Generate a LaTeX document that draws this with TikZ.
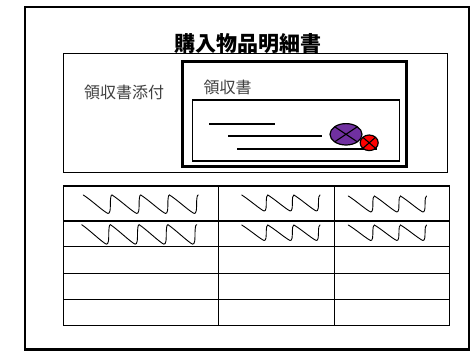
\documentclass[tikz,border=0pt]{standalone}
\usepackage{fontspec}
\newfontfamily\cjk{Noto Sans CJK JP}
\definecolor{sealpurple}{HTML}{7030A0}
\begin{document}
\begin{tikzpicture}[x = 1pt, y = -1pt]
        \def\squiggle#1#2#3#4#5{
            \foreach \k in {1, ..., #5}{
                \pgfmathsetmacro{\sx}{#1 + (\k - 1) * #3}
                \draw[line width = 0.9pt, line cap = round] (\sx, #2) .. controls ({\sx + 0.25 * #3}, {#2 + 0.25 * #4}) and ({\sx + 0.6 * #3}, {#2 + 0.75 * #4}) .. ({\sx + 0.8 * #3}, {#2 + 0.95 * #4})
                    .. controls ({\sx + 0.88 * #3}, {#2 + 1.05 * #4}) and ({\sx + 0.94 * #3}, {#2 + 1.02 * #4}) .. ({\sx + 0.94 * #3}, {#2 + 0.6 * #4})
                    .. controls ({\sx + 0.94 * #3}, {#2 + 0.12 * #4}) and ({\sx + 0.96 * #3}, {#2}) .. ({\sx + #3}, {#2});
            }
        }
        \useasboundingbox (0, 0) rectangle (474, 351);
        \draw[line width = 2.4pt] (25, 7) rectangle (469, 349.5);
        \node[font = \cjk\bfseries\fontsize{21}{25}\selectfont, inner sep = 0pt] (title) at (248.3, 43.5) {購入物品明細書};
        \draw[line width = 1.4pt] (63.5, 53.5) rectangle (447.5, 172.5);
        \node[font = \cjk\fontsize{16}{19}\selectfont, text = black!75, inner sep = 0pt] (attach) at (124.2, 92) {領収書添付};
        \draw[line width = 3pt] (182.3, 61.7) rectangle (406.7, 166.7);
        \node[font = \cjk\fontsize{16}{19}\selectfont, text = black!75, inner sep = 0pt] (receipt) at (227.5, 87.5) {領収書};
        \draw[line width = 1.5pt] (192.3, 100) rectangle (399.3, 161);
        \foreach \lx/\rx/\ly in {209/275/124, 228.3/321.7/136, 237.3/377.3/149}{
            \draw[line width = 1.3pt] (\lx, \ly) -- (\rx, \ly);
        }
        \filldraw[fill = sealpurple, draw = black, line width = 1.2pt] (346, 134.3) ellipse [x radius = 16, y radius = 10.7];
        \draw[line width = 1.1pt] (346, 134.3) +(45:16 and 10.7) -- +(225:16 and 10.7) (346, 134.3) +(135:16 and 10.7) -- +(315:16 and 10.7);
        \filldraw[fill = red, draw = black, line width = 1.2pt] (369.2, 142.8) ellipse [x radius = 9, y radius = 7.8];
        \draw[line width = 1.1pt] (369.2, 142.8) +(45:9 and 7.8) -- +(225:9 and 7.8) (369.2, 142.8) +(135:9 and 7.8) -- +(315:9 and 7.8);
        \foreach \ty in {221, 246.7, 273.3, 299.3}{
            \draw[line width = 1.5pt] (63.5, \ty) -- (449.5, \ty);
        }
        \foreach \tx in {218.3, 334.3}{
            \draw[line width = 1.5pt] (\tx, 186) -- (\tx, 325.5);
        }
        \draw[line width = 1.5pt] (63.5, 186) rectangle (449.5, 325.5);
        \squiggle{83.3}{195}{28.75}{18.5}{4}
        \squiggle{81.7}{224.7}{28.75}{19.5}{4}
        \squiggle{241.7}{195}{26.1}{16}{3}
        \squiggle{348.3}{196}{26.1}{16}{3}
        \squiggle{241.7}{225}{26.1}{15.5}{3}
        \squiggle{348.3}{225}{26.1}{15.5}{3}
    \end{tikzpicture}
\end{document}
